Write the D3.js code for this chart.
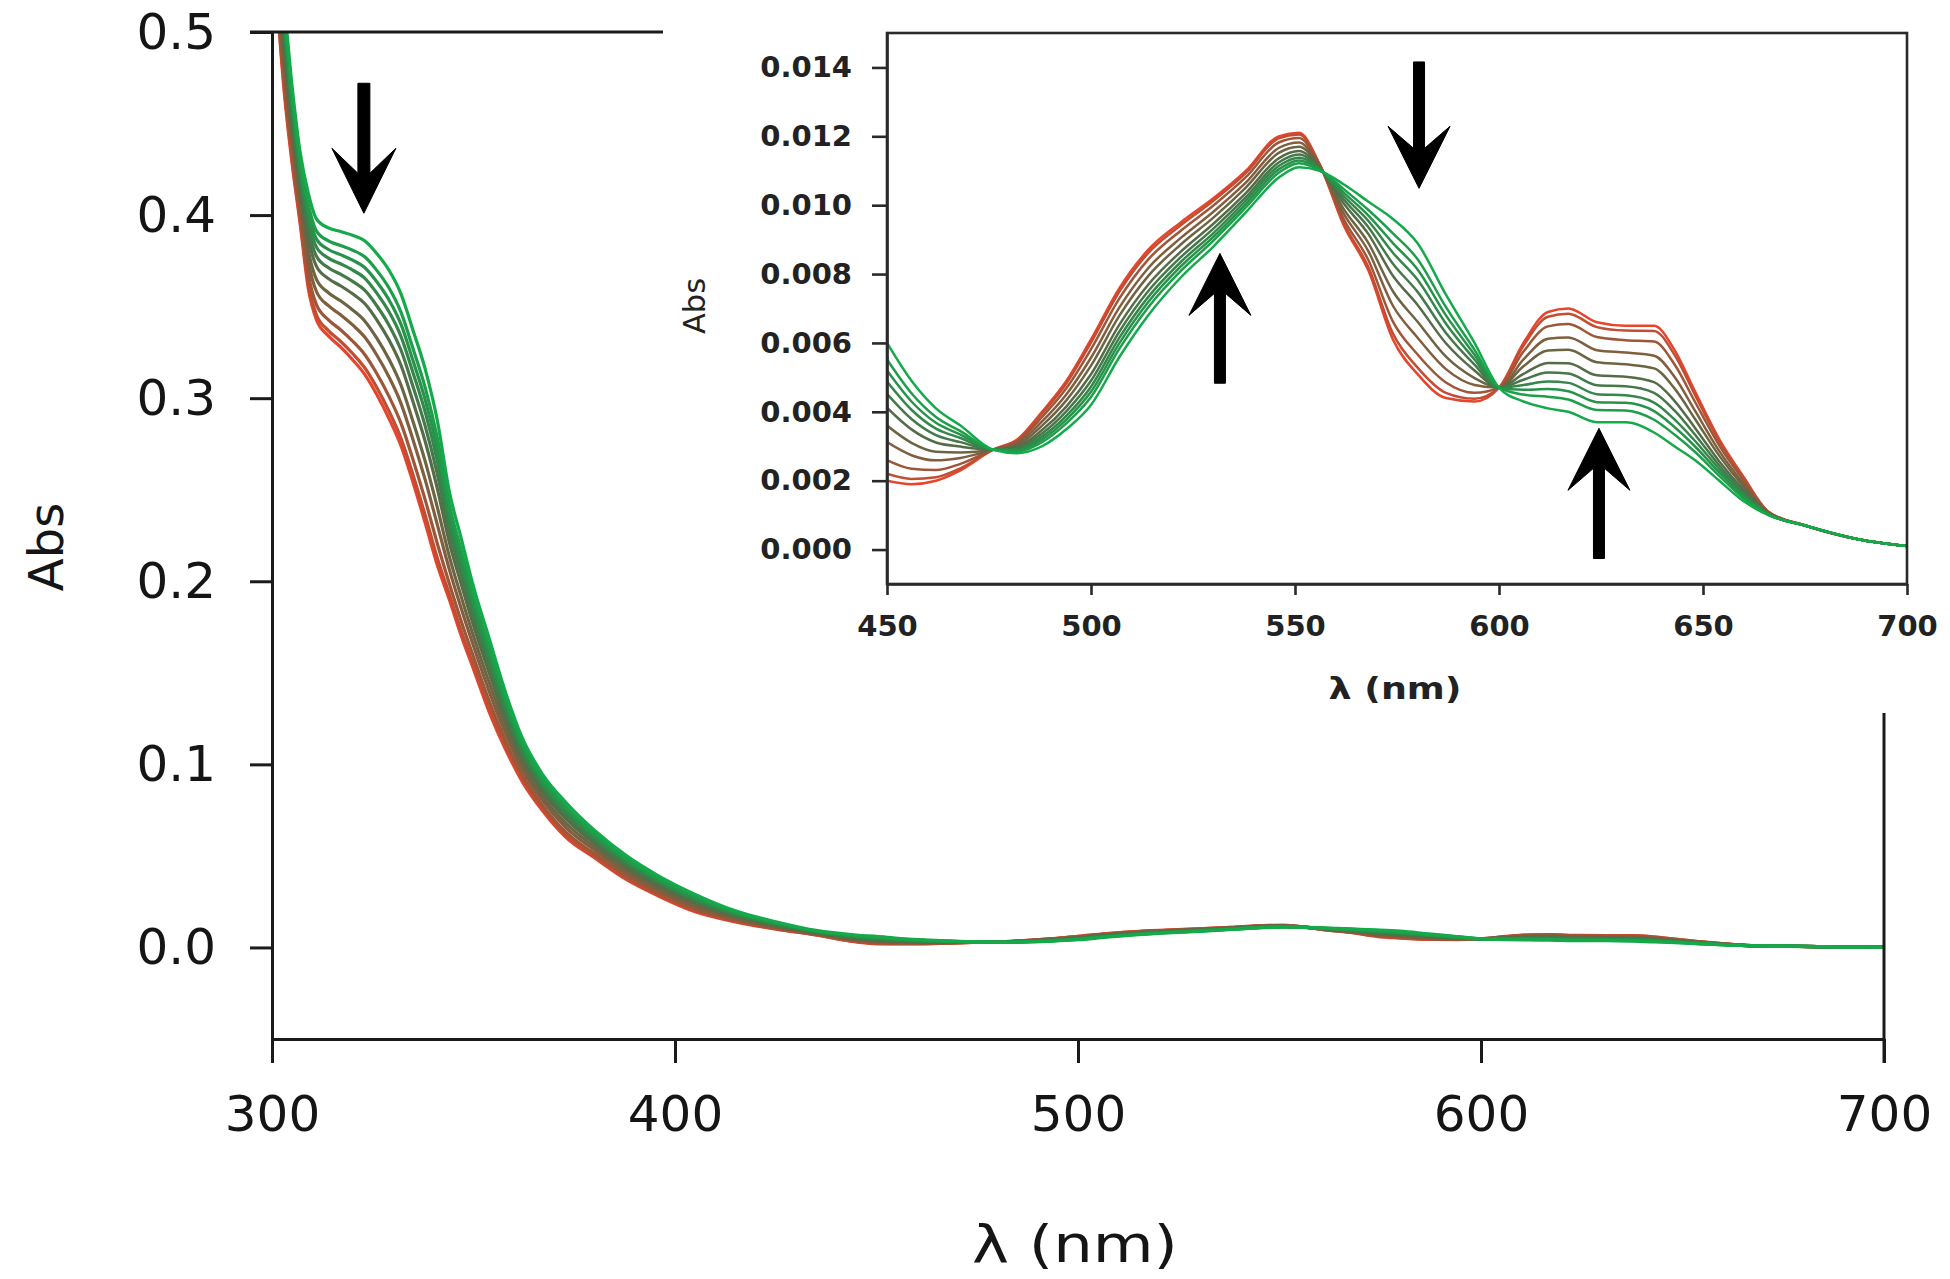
<!DOCTYPE html>
<html><head><meta charset="utf-8">
<script src="https://cdn.jsdelivr.net/npm/d3@7"></script>
<style>body{margin:0;background:#fff} svg{display:block}</style>
</head><body>
<svg id="chart" width="1950" height="1279"></svg>
<script>
// ---------- data ----------
// main panel, 301-445 nm (absorbance); 450-700 nm taken from the inset arrays
const mainWavelengths = [301,303,305,307,309,311,314,317,320,323,326,329,332,335,338,341,344,347,350,354,358,362,367,373,380,388,396,405,415,425,435,445];
const mainAbs0  = [0.5450,0.5150,0.4700,0.4340,0.4120,0.3980,0.3930,0.3910,0.3890,0.3860,0.3790,0.3700,0.3570,0.3370,0.3160,0.2880,0.2490,0.2230,0.1970,0.1680,0.1390,0.1150,0.0950,0.0790,0.0640,0.0500,0.0390,0.0290,0.0200,0.0140,0.0093,0.0068];
const mainAbs1  = [0.5426,0.5094,0.4650,0.4293,0.4058,0.3914,0.3859,0.3834,0.3808,0.3772,0.3698,0.3603,0.3470,0.3270,0.3059,0.2785,0.2419,0.2166,0.1916,0.1632,0.1353,0.1121,0.0926,0.0767,0.0622,0.0484,0.0377,0.0279,0.0193,0.0135,0.0090,0.0063];
const mainAbs2  = [0.5410,0.5056,0.4616,0.4262,0.4016,0.3870,0.3812,0.3784,0.3754,0.3714,0.3636,0.3538,0.3404,0.3204,0.2992,0.2722,0.2372,0.2124,0.1880,0.1600,0.1328,0.1102,0.0910,0.0752,0.0610,0.0474,0.0368,0.0271,0.0188,0.0132,0.0088,0.0060];
const mainAbs3  = [0.5394,0.5018,0.4582,0.4231,0.3974,0.3826,0.3765,0.3734,0.3700,0.3656,0.3574,0.3473,0.3338,0.3138,0.2925,0.2659,0.2325,0.2082,0.1844,0.1568,0.1303,0.1083,0.0894,0.0737,0.0598,0.0464,0.0359,0.0263,0.0183,0.0129,0.0086,0.0057];
const mainAbs4  = [0.5376,0.4976,0.4545,0.4196,0.3928,0.3776,0.3712,0.3677,0.3638,0.3590,0.3505,0.3400,0.3263,0.3063,0.2849,0.2588,0.2272,0.2034,0.1803,0.1532,0.1275,0.1061,0.0876,0.0720,0.0584,0.0452,0.0349,0.0255,0.0178,0.0125,0.0084,0.0054];
const mainAbs5  = [0.5356,0.4929,0.4503,0.4157,0.3876,0.3721,0.3653,0.3614,0.3570,0.3517,0.3428,0.3319,0.3180,0.2980,0.2765,0.2509,0.2213,0.1981,0.1758,0.1492,0.1244,0.1037,0.0856,0.0701,0.0569,0.0439,0.0338,0.0245,0.0172,0.0121,0.0081,0.0050];
const mainAbs6  = [0.5330,0.4868,0.4448,0.4106,0.3808,0.3650,0.3576,0.3532,0.3482,0.3422,0.3328,0.3214,0.3072,0.2872,0.2656,0.2406,0.2136,0.1912,0.1700,0.1440,0.1204,0.1006,0.0830,0.0676,0.0550,0.0422,0.0324,0.0233,0.0164,0.0116,0.0078,0.0045];
const mainAbs7  = [0.5306,0.4812,0.4398,0.4059,0.3746,0.3584,0.3505,0.3456,0.3400,0.3334,0.3236,0.3117,0.2972,0.2772,0.2555,0.2311,0.2065,0.1848,0.1646,0.1392,0.1167,0.0977,0.0806,0.0653,0.0532,0.0406,0.0311,0.0222,0.0157,0.0111,0.0075,0.0041];
const mainAbs8  = [0.5280,0.4750,0.4343,0.4008,0.3678,0.3512,0.3428,0.3374,0.3312,0.3239,0.3135,0.3011,0.2864,0.2664,0.2446,0.2208,0.1988,0.1779,0.1587,0.1340,0.1126,0.0946,0.0780,0.0628,0.0512,0.0389,0.0296,0.0209,0.0149,0.0106,0.0072,0.0036];
const mainAbs9  = [0.5260,0.4703,0.4301,0.3969,0.3626,0.3457,0.3369,0.3311,0.3244,0.3166,0.3058,0.2930,0.2781,0.2581,0.2362,0.2129,0.1929,0.1726,0.1542,0.1300,0.1095,0.0922,0.0760,0.0609,0.0497,0.0376,0.0285,0.0200,0.0143,0.0102,0.0069,0.0032];
const mainAbs10 = [0.5250,0.4680,0.4280,0.3950,0.3600,0.3430,0.3340,0.3280,0.3210,0.3130,0.3020,0.2890,0.2740,0.2540,0.2320,0.2090,0.1900,0.1700,0.1520,0.1280,0.1080,0.0910,0.0750,0.0600,0.0490,0.0370,0.0280,0.0195,0.0140,0.0100,0.0068,0.0030];

// inset panel, 450-700 nm
const insetWavelengths = [450,456,462,468,476,482,488,494,500,507,514,522,530,538,546,551,556,562,568,574,580,587,594,600,606,612,617,624,631,638,643,648,654,660,666,675,688,700];
const insetAbs0  = [0.00600,0.00490,0.00410,0.00360,0.00290,0.00280,0.00300,0.00350,0.00420,0.00560,0.00680,0.00790,0.00880,0.00980,0.01080,0.01110,0.01100,0.01060,0.01010,0.00960,0.00890,0.00740,0.00600,0.00470,0.00430,0.00410,0.00400,0.00370,0.00370,0.00340,0.00300,0.00260,0.00200,0.00140,0.00100,0.00070,0.00030,0.00010];
const insetAbs1  = [0.00552,0.00454,0.00385,0.00344,0.00290,0.00285,0.00312,0.00367,0.00443,0.00584,0.00703,0.00809,0.00897,0.00994,0.01094,0.01122,0.01102,0.01046,0.00986,0.00918,0.00844,0.00704,0.00580,0.00470,0.00450,0.00444,0.00436,0.00405,0.00404,0.00377,0.00334,0.00284,0.00214,0.00148,0.00101,0.00070,0.00030,0.00010];
const insetAbs2  = [0.00520,0.00430,0.00368,0.00334,0.00290,0.00288,0.00320,0.00378,0.00458,0.00600,0.00718,0.00822,0.00908,0.01004,0.01104,0.01130,0.01104,0.01036,0.00970,0.00890,0.00814,0.00680,0.00566,0.00470,0.00464,0.00466,0.00460,0.00428,0.00426,0.00402,0.00356,0.00300,0.00224,0.00154,0.00102,0.00070,0.00030,0.00010];
const insetAbs3  = [0.00488,0.00406,0.00351,0.00324,0.00290,0.00291,0.00328,0.00389,0.00473,0.00616,0.00733,0.00835,0.00919,0.01014,0.01114,0.01138,0.01106,0.01026,0.00954,0.00862,0.00784,0.00656,0.00552,0.00470,0.00478,0.00488,0.00484,0.00451,0.00448,0.00427,0.00378,0.00316,0.00234,0.00160,0.00103,0.00070,0.00030,0.00010];
const insetAbs4  = [0.00452,0.00379,0.00332,0.00312,0.00290,0.00295,0.00337,0.00402,0.00490,0.00634,0.00750,0.00849,0.00932,0.01024,0.01124,0.01147,0.01107,0.01016,0.00936,0.00830,0.00749,0.00629,0.00537,0.00470,0.00493,0.00514,0.00511,0.00477,0.00474,0.00455,0.00404,0.00334,0.00244,0.00166,0.00104,0.00070,0.00030,0.00010];
const insetAbs5  = [0.00412,0.00349,0.00311,0.00299,0.00290,0.00299,0.00347,0.00416,0.00509,0.00654,0.00769,0.00865,0.00946,0.01036,0.01136,0.01157,0.01109,0.01004,0.00916,0.00795,0.00711,0.00599,0.00520,0.00470,0.00510,0.00542,0.00541,0.00506,0.00502,0.00486,0.00432,0.00354,0.00256,0.00173,0.00105,0.00070,0.00030,0.00010];
const insetAbs6  = [0.00360,0.00310,0.00284,0.00282,0.00290,0.00304,0.00360,0.00434,0.00534,0.00680,0.00794,0.00886,0.00964,0.01052,0.01152,0.01170,0.01112,0.00988,0.00890,0.00750,0.00662,0.00560,0.00498,0.00470,0.00532,0.00578,0.00580,0.00544,0.00538,0.00526,0.00468,0.00380,0.00272,0.00182,0.00106,0.00070,0.00030,0.00010];
const insetAbs7  = [0.00312,0.00274,0.00259,0.00266,0.00290,0.00309,0.00372,0.00451,0.00557,0.00704,0.00817,0.00905,0.00981,0.01066,0.01166,0.01182,0.01114,0.00974,0.00866,0.00708,0.00616,0.00524,0.00478,0.00470,0.00552,0.00612,0.00616,0.00579,0.00572,0.00563,0.00502,0.00404,0.00286,0.00190,0.00107,0.00070,0.00030,0.00010];
const insetAbs8  = [0.00260,0.00235,0.00231,0.00249,0.00290,0.00314,0.00385,0.00469,0.00582,0.00730,0.00842,0.00926,0.00999,0.01082,0.01182,0.01195,0.01117,0.00958,0.00840,0.00662,0.00567,0.00485,0.00455,0.00470,0.00575,0.00648,0.00655,0.00617,0.00608,0.00604,0.00538,0.00430,0.00302,0.00200,0.00109,0.00070,0.00030,0.00010];
const insetAbs9  = [0.00220,0.00205,0.00210,0.00236,0.00290,0.00318,0.00395,0.00483,0.00601,0.00750,0.00861,0.00942,0.01013,0.01094,0.01194,0.01205,0.01119,0.00946,0.00820,0.00627,0.00529,0.00455,0.00438,0.00470,0.00592,0.00676,0.00685,0.00646,0.00636,0.00635,0.00566,0.00450,0.00314,0.00207,0.00110,0.00070,0.00030,0.00010];
const insetAbs10 = [0.00200,0.00190,0.00200,0.00230,0.00290,0.00320,0.00400,0.00490,0.00610,0.00760,0.00870,0.00950,0.01020,0.01100,0.01200,0.01210,0.01120,0.00940,0.00810,0.00610,0.00510,0.00440,0.00430,0.00470,0.00600,0.00690,0.00700,0.00660,0.00650,0.00650,0.00580,0.00460,0.00320,0.00210,0.00110,0.00070,0.00030,0.00010];

const mainTicksX = [300,400,500,600,700];
const mainTicksY = [0.0,0.1,0.2,0.3,0.4,0.5];
const insetTicksX = [450,500,550,600,650,700];
const insetTicksY = [0.000,0.002,0.004,0.006,0.008,0.010,0.012,0.014];

// arrows: wavelength, tail absorbance, tip absorbance
const mainArrowLambda = [322.8];
const mainArrowTail = [0.472];
const mainArrowTip = [0.401];
const insetArrowLambda = [580.4, 531.6, 624.5];
const insetArrowTail = [0.01416, 0.00483, -0.00026];
const insetArrowTip = [0.01049, 0.0086, 0.00352];

// ---------- drawing ----------
const mainSets = [mainAbs0,mainAbs1,mainAbs2,mainAbs3,mainAbs4,mainAbs5,mainAbs6,mainAbs7,mainAbs8,mainAbs9,mainAbs10];
const insetSets = [insetAbs0,insetAbs1,insetAbs2,insetAbs3,insetAbs4,insetAbs5,insetAbs6,insetAbs7,insetAbs8,insetAbs9,insetAbs10];

const color = d3.piecewise(d3.interpolateRgb, ["#14aa4a", "#2c8c4a", "#566c48", "#8c5a3c", "#e6452b"]);

const svg = d3.select("#chart");
svg.append("rect").attr("width",1950).attr("height",1279).attr("fill","#fff");

const mx = d3.scaleLinear().domain([300,700]).range([272,1884]);
const my = d3.scaleLinear().domain([-0.05,0.5]).range([1039,32]);
const ix = d3.scaleLinear().domain([450,700]).range([887,1907]);
const iy = d3.scaleLinear().domain([-0.001,0.015]).range([584,33]);

const defs = svg.append("defs");
defs.append("clipPath").attr("id","mainClip").append("rect")
  .attr("x",mx(300)).attr("y",my(0.5)).attr("width",mx(700)-mx(300)).attr("height",my(-0.05)-my(0.5));
defs.append("clipPath").attr("id","insetClip").append("rect")
  .attr("x",ix(450)).attr("y",iy(0.015)).attr("width",ix(700)-ix(450)).attr("height",iy(-0.001)-iy(0.015));

const mainFont = "'DejaVu Sans', sans-serif";
const axisColor = "#1b1b1b";

// main curves (red first, green last)
const mainLine = d3.line().x(d=>mx(d[0])).y(d=>my(d[1])).curve(d3.curveMonotoneX);
const gMainCurves = svg.append("g").attr("clip-path","url(#mainClip)");
for (let k = mainSets.length-1; k >= 0; k--) {
  const pts = mainWavelengths.map((w,i)=>[w, mainSets[k][i]])
    .concat(insetWavelengths.map((w,i)=>[w, insetSets[k][i]]));
  gMainCurves.append("path").attr("d", mainLine(pts))
    .attr("fill","none").attr("stroke", color(k/10)).attr("stroke-width",3.2)
    .attr("stroke-linejoin","round");
}

// main axes
const gy = svg.append("g").attr("transform",`translate(${mx(300)},0)`)
  .call(d3.axisLeft(my).tickValues(mainTicksY).tickSize(22).tickSizeOuter(0).tickPadding(34).tickFormat(d3.format(".1f")));
const gx = svg.append("g").attr("transform",`translate(0,${my(-0.05)})`)
  .call(d3.axisBottom(mx).tickValues(mainTicksX).tickSize(24).tickSizeOuter(0).tickPadding(32).tickFormat(d3.format("d")));
[gy,gx].forEach(g=>{
  g.selectAll("path,line").attr("stroke",axisColor).attr("stroke-width",3);
  g.selectAll("text").attr("font-family",mainFont).attr("font-size",50).attr("fill","#151515");
});
// partial top frame and right frame
svg.append("line").attr("x1",mx(300)-22).attr("x2",663).attr("y1",my(0.5)).attr("y2",my(0.5))
  .attr("stroke",axisColor).attr("stroke-width",3);
svg.append("line").attr("x1",mx(700)).attr("x2",mx(700)).attr("y1",713).attr("y2",my(-0.05)+24)
  .attr("stroke",axisColor).attr("stroke-width",3);

// main titles
svg.append("text").attr("transform","translate(46,547) rotate(-90)")
  .attr("text-anchor","middle").attr("dy","0.36em")
  .attr("font-family",mainFont).attr("font-size",48).attr("fill","#151515").text("Abs");
svg.append("text").attr("x",1075).attr("y",1262).attr("text-anchor","middle")
  .attr("font-family",mainFont).attr("font-size",52).attr("fill","#151515")
  .attr("textLength",206).attr("lengthAdjust","spacingAndGlyphs").text("λ (nm)");

// arrow shape
function arrowPath(x, yTail, yTip, halfW, headLen, notch, shaftW) {
  const dir = Math.sign(yTip - yTail);
  const p = d3.path();
  p.moveTo(x, yTip);
  p.lineTo(x + halfW, yTip - dir*headLen);
  p.lineTo(x + shaftW/2, yTip - dir*notch);
  p.lineTo(x + shaftW/2, yTail);
  p.lineTo(x - shaftW/2, yTail);
  p.lineTo(x - shaftW/2, yTip - dir*notch);
  p.lineTo(x - halfW, yTip - dir*headLen);
  p.closePath();
  return p.toString();
}
mainArrowLambda.forEach((w,i)=>{
  svg.append("path").attr("d", arrowPath(mx(w), my(mainArrowTail[i]), my(mainArrowTip[i]), 32, 65, 40, 12))
    .attr("fill","#000").attr("stroke","#000").attr("stroke-width",1).attr("stroke-linejoin","round");
});

// ---------- inset ----------
const insetFont = "'DejaVu Sans', sans-serif";
const insetLine = d3.line().x(d=>ix(d[0])).y(d=>iy(d[1])).curve(d3.curveMonotoneX);
const gInsetCurves = svg.append("g").attr("clip-path","url(#insetClip)");
for (let k = insetSets.length-1; k >= 0; k--) {
  const pts = insetWavelengths.map((w,i)=>[w, insetSets[k][i]]);
  gInsetCurves.append("path").attr("d", insetLine(pts))
    .attr("fill","none").attr("stroke", color(k/10)).attr("stroke-width",2.5)
    .attr("stroke-linejoin","round");
}
const igy = svg.append("g").attr("transform",`translate(${ix(450)},0)`)
  .call(d3.axisLeft(iy).tickValues(insetTicksY).tickSize(15).tickSizeOuter(0).tickPadding(20).tickFormat(d3.format(".3f")));
const igx = svg.append("g").attr("transform",`translate(0,${iy(-0.001)})`)
  .call(d3.axisBottom(ix).tickValues(insetTicksX).tickSize(11).tickSizeOuter(0).tickPadding(20).tickFormat(d3.format("d")));
[igy,igx].forEach(g=>{
  g.selectAll("path,line").attr("stroke","#2a2a2a").attr("stroke-width",2.6);
  g.selectAll("text").attr("font-family",insetFont).attr("font-weight","bold").attr("font-size",29).attr("fill","#222");
});
svg.append("rect").attr("x",ix(450)).attr("y",iy(0.015))
  .attr("width",ix(700)-ix(450)).attr("height",iy(-0.001)-iy(0.015))
  .attr("fill","none").attr("stroke","#2a2a2a").attr("stroke-width",2.6);
svg.append("text").attr("transform","translate(694,306) rotate(-90)")
  .attr("text-anchor","middle").attr("dy","0.36em")
  .attr("font-family",insetFont).attr("font-size",30).attr("fill","#222")
  .attr("textLength",56).attr("lengthAdjust","spacingAndGlyphs").text("Abs");
svg.append("text").attr("x",1395).attr("y",699).attr("text-anchor","middle")
  .attr("font-family",insetFont).attr("font-weight","bold").attr("font-size",30).attr("fill","#222")
  .attr("textLength",133).attr("lengthAdjust","spacingAndGlyphs").text("λ (nm)");
insetArrowLambda.forEach((w,i)=>{
  svg.append("path").attr("d", arrowPath(ix(w), iy(insetArrowTail[i]), iy(insetArrowTip[i]), 31, 62, 40, 11))
    .attr("fill","#000").attr("stroke","#000").attr("stroke-width",1).attr("stroke-linejoin","round");
});
</script>
</body></html>
